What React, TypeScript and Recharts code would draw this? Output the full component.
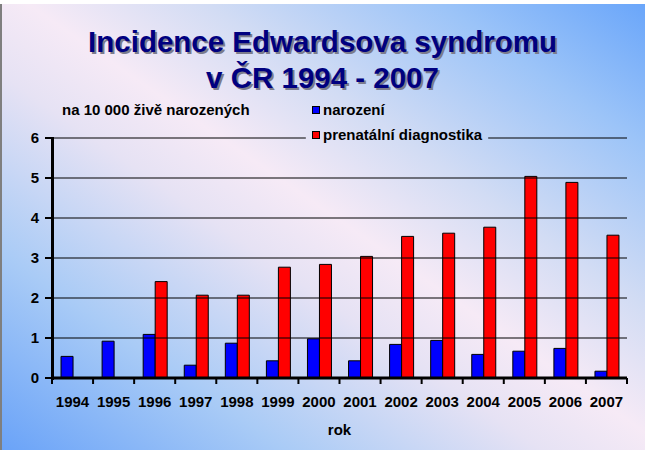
import { BarChart, Bar, XAxis, YAxis, ReferenceLine, Legend } from "recharts";

const YEARS = ["1994", "1995", "1996", "1997", "1998", "1999", "2000", "2001", "2002", "2003", "2004", "2005", "2006", "2007"];
const NAROZENI = [0.54, 0.92, 1.09, 0.32, 0.87, 0.43, 0.98, 0.43, 0.84, 0.94, 0.59, 0.67, 0.74, 0.17];
const PRENATALNI = [null, null, 2.41, 2.07, 2.07, 2.77, 2.84, 3.04, 3.54, 3.62, 3.77, 5.04, 4.89, 3.57];
const Y_TICKS = [0, 1, 2, 3, 4, 5, 6];

const FONT = '"Liberation Sans", Arial, sans-serif';
const GRADIENT =
  "linear-gradient(to top right, #6aa3f8 0%, #a9cbf6 22%, #e6e2f4 42%, #f6eaf6 52%, #d2dcf4 66%, #9cc4f8 84%, #6aa6fa 100%)";

// plot box inside the 645x454 chart
const PLOT_LEFT = 52;
const PLOT_TOP = 138;
const PLOT_RIGHT = 18;
const PLOT_BOTTOM = 378;

// where the legend block cuts the top grid line (in category units)
const LEGEND_GAP = [6.18, 10.62];
const Y_TICK_LEN = 0.17;

const axisText = { fill: "#000", fontSize: 15, fontWeight: 700, fontFamily: FONT };

const renderLegend = (props: any) => (
  <div>
    {(props.payload || []).map((e: any) => (
      <div
        key={e.value}
        style={{ display: "flex", alignItems: "center", height: 18, lineHeight: "18px", marginBottom: 7, fontSize: 15, fontWeight: 700, color: "#000", whiteSpace: "nowrap" }}
      >
        <span style={{ width: 6, height: 6, background: e.color, border: "1px solid #000", marginRight: 3 }} />
        <span>{e.value}</span>
      </div>
    ))}
  </div>
);

// year label plus a tick mark on the left edge of each category (and the right edge of the last one)
const renderYearTick = (props: any) => {
  const { x, y, payload, index } = props;
  const half = payload && payload.offset > 0 ? payload.offset : props.width / YEARS.length / 2;
  return (
    <g>
      <line x1={x - half} x2={x - half} y1={y} y2={y + 6} stroke="#000" strokeWidth={2} />
      {index === YEARS.length - 1 && <line x1={x + half} x2={x + half} y1={y} y2={y + 6} stroke="#000" strokeWidth={2} />}
      <text x={x} y={y + 18} dy="0.71em" textAnchor="middle" {...axisText}>
        {payload.value}
      </text>
    </g>
  );
};

export default function App() {
  const data = YEARS.map((rok, i) => ({ rok, pos: i + 0.5, narozeni: NAROZENI[i], prenatalni: PRENATALNI[i] }));

  return (
    <div style={{ position: "relative", width: 645, height: 454, background: "#fff", overflow: "hidden", fontFamily: FONT }}>
      <style>{"body{margin:0}"}</style>
      <div style={{ position: "absolute", left: 0, top: 4, width: 643, height: 446, borderLeft: "2px solid #7f7f7f", background: GRADIENT }} />
      <div
        style={{ position: "absolute", left: 0, top: 24, width: 645, textAlign: "center", fontSize: 29.5, lineHeight: "36px", fontWeight: 700, color: "#000080", textShadow: "2px 2px 0 #7c7c8c" }}
      >
        <div>Incidence Edwardsova syndromu</div>
        <div>v ČR 1994 - 2007</div>
      </div>

      <div style={{ position: "absolute", left: 0, top: 0 }}>
        <BarChart
          width={645}
          height={454}
          data={data}
          margin={{ top: PLOT_TOP, right: PLOT_RIGHT, bottom: 16, left: 0 }}
          barCategoryGap="22%"
          barGap={0}
        >
          <XAxis xAxisId="num" dataKey="pos" type="number" domain={[0, YEARS.length]} allowDataOverflow hide />
          <XAxis
            dataKey="rok"
            height={60}
            axisLine={false}
            tickLine={false}
            tickSize={0}
            tickMargin={0}
            interval={0}
            tick={renderYearTick}
            label={{ value: "rok", position: "insideBottom", offset: 3, ...axisText }}
          />
          <YAxis
            width={PLOT_LEFT}
            domain={[0, 6]}
            ticks={Y_TICKS}
            interval={0}
            axisLine={false}
            tickLine={false}
            tickSize={0}
            tickMargin={13}
            tick={axisText}
          />
          {Y_TICKS.slice(1, -1).map((v) => (
            <ReferenceLine key={v} xAxisId="num" y={v} stroke="#000" strokeWidth={1.2} />
          ))}
          <ReferenceLine xAxisId="num" ifOverflow="visible" segment={[{ x: 0, y: 6 }, { x: LEGEND_GAP[0], y: 6 }]} stroke="#000" strokeWidth={1.2} />
          <ReferenceLine xAxisId="num" ifOverflow="visible" segment={[{ x: LEGEND_GAP[1], y: 6 }, { x: YEARS.length, y: 6 }]} stroke="#000" strokeWidth={1.2} />
          <Bar dataKey="narozeni" name="narození" fill="#0000ff" stroke="#000" strokeWidth={1} isAnimationActive={false} />
          <Bar dataKey="prenatalni" name="prenatální diagnostika" fill="#ff0000" stroke="#000" strokeWidth={1} isAnimationActive={false} />
          {Y_TICKS.map((v) => (
            <ReferenceLine key={"yt" + v} xAxisId="num" ifOverflow="visible" segment={[{ x: -Y_TICK_LEN, y: v }, { x: 0, y: v }]} stroke="#000" strokeWidth={2} />
          ))}
          <ReferenceLine xAxisId="num" ifOverflow="visible" segment={[{ x: 0, y: 0 }, { x: YEARS.length, y: 0 }]} stroke="#000" strokeWidth={3} />
          <Legend layout="horizontal" verticalAlign="middle" align="center" content={renderLegend} wrapperStyle={{ left: 312, top: 101, width: 200, height: 50 }} />
        </BarChart>
      </div>

      {/* thick value axis line */}
      <div style={{ position: "absolute", left: PLOT_LEFT - 1.5, top: PLOT_TOP - 1, width: 3, height: PLOT_BOTTOM - PLOT_TOP + 2.5, background: "#000" }} />

      <div style={{ position: "absolute", left: 62, top: 101, fontSize: 15, lineHeight: "18px", fontWeight: 700, color: "#000", whiteSpace: "nowrap" }}>
        na 10 000 živě narozených
      </div>
    </div>
  );
}
